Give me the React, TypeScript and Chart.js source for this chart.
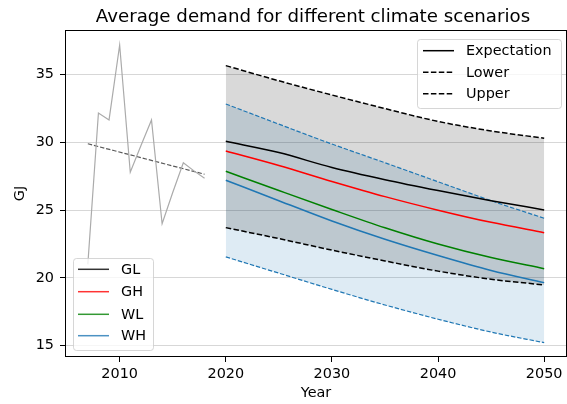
import React, { useEffect, useRef } from "react";
import { Chart, registerables } from "chart.js";

Chart.register(...registerables);

// Observed yearly demand (GJ)
const histYears = [2007, 2008, 2009, 2010, 2011, 2012, 2013, 2014, 2015, 2016, 2017, 2018];
const histDemand = [21.0, 32.17, 31.66, 37.19, 27.8, 29.75, 31.66, 24.0, 26.3, 28.5, 27.9, 27.35];

// Linear trend through the observed period
const trendYears = [2007, 2018];
const trendDemand = [29.9, 27.65];

// Scenario projections
const forecastYears = [2020, 2025, 2030, 2035, 2040, 2045, 2050];
const glDemand = [30.08, 29.25, 28.15, 27.25, 26.45, 25.7, 25.02];
const ghDemand = [29.37, 28.3, 27.12, 26.0, 25.0, 24.1, 23.34];
const wlDemand = [27.87, 26.45, 25.05, 23.7, 22.5, 21.5, 20.68];
const whDemand = [27.21, 25.7, 24.2, 22.85, 21.65, 20.55, 19.65];

// Uncertainty bands
const glUpper = [35.67, 34.55, 33.5, 32.5, 31.55, 30.85, 30.31];
const glLower = [23.71, 22.9, 22.05, 21.25, 20.5, 19.9, 19.48];
const whUpper = [32.84, 31.35, 29.88, 28.5, 27.1, 25.7, 24.4];
const whLower = [21.55, 20.35, 19.15, 18.0, 16.95, 16.0, 15.22];

const xTicks = [2010, 2020, 2030, 2040, 2050];
const yTicks = [15, 20, 25, 30, 35];
const xRange = [2004.85, 2052.15];
const yRange = [14.16, 38.3];

const scenarioNames = ["GL", "GH", "WL", "WH"];
const bandNames = ["Expectation", "Lower", "Upper"];

const FONT = '"DejaVu Sans", sans-serif';
const BLUE = "#1f77b4";
const TEXT_SIZE = 14.4;

const toPoints = (xs: number[], ys: number[]) => xs.map((x, i) => ({ x, y: ys[i] }));

function drawLegend(
  ctx: CanvasRenderingContext2D,
  box: { x: number; y: number; w: number; h: number },
  items: { label: string; color: string; dash: number[] }[],
  rowY: number[],
  lineX0: number,
  lineX1: number,
  textX: number
) {
  ctx.save();
  ctx.beginPath();
  ctx.roundRect(box.x + 0.5, box.y + 0.5, box.w, box.h, 3);
  ctx.fillStyle = "rgba(255,255,255,0.8)";
  ctx.fill();
  ctx.strokeStyle = "rgba(204,204,204,0.8)";
  ctx.lineWidth = 1;
  ctx.stroke();
  ctx.font = `${TEXT_SIZE}px ${FONT}`;
  ctx.textBaseline = "middle";
  ctx.textAlign = "left";
  items.forEach((it, i) => {
    const y = rowY[i];
    ctx.beginPath();
    ctx.setLineDash(it.dash);
    ctx.strokeStyle = it.color;
    ctx.lineWidth = 1.5;
    ctx.moveTo(lineX0, y);
    ctx.lineTo(lineX1, y);
    ctx.stroke();
    ctx.setLineDash([]);
    ctx.fillStyle = "#000";
    ctx.fillText(it.label, textX, y + 1);
  });
  ctx.restore();
}

const decorations = {
  id: "decorations",
  afterDraw(chart: any) {
    const ctx: CanvasRenderingContext2D = chart.ctx;
    const a = chart.chartArea;
    ctx.save();
    // axes frame
    ctx.strokeStyle = "#000";
    ctx.lineWidth = 1;
    ctx.strokeRect(Math.round(a.left) + 0.5, Math.round(a.top) + 0.5, Math.round(a.right - a.left) - 1, Math.round(a.bottom - a.top) - 1);

    // title
    ctx.fillStyle = "#000";
    ctx.font = `18.2px ${FONT}`;
    ctx.textAlign = "center";
    ctx.textBaseline = "alphabetic";
    ctx.fillText("Average demand for different climate scenarios", (a.left + a.right) / 2 - 3, 22);

    // axis titles
    ctx.font = `${TEXT_SIZE}px ${FONT}`;
    ctx.textBaseline = "middle";
    ctx.fillText("Year", (a.left + a.right) / 2, 393);
    ctx.save();
    ctx.translate(20, (a.top + a.bottom) / 2);
    ctx.rotate(-Math.PI / 2);
    ctx.fillText("GJ", 0, 0);
    ctx.restore();

    // band legend
    drawLegend(
      ctx,
      { x: 417, y: 39, w: 144, h: 69 },
      [
        { label: bandNames[0], color: "#000", dash: [] },
        { label: bandNames[1], color: "#000", dash: [5.5, 2.4] },
        { label: bandNames[2], color: "#000", dash: [5.5, 2.4] },
      ],
      [50.7, 72.3, 93.7],
      423,
      454,
      466
    );

    // scenario legend
    drawLegend(
      ctx,
      { x: 73, y: 258, w: 80, h: 92 },
      [
        { label: scenarioNames[0], color: "rgba(0,0,0,0.8)", dash: [] },
        { label: scenarioNames[1], color: "rgba(255,0,0,0.8)", dash: [] },
        { label: scenarioNames[2], color: "rgba(0,128,0,0.8)", dash: [] },
        { label: scenarioNames[3], color: "rgba(31,119,180,0.8)", dash: [] },
      ],
      [269.3, 291.7, 314.3, 335.7],
      78,
      109,
      121
    );
    ctx.restore();
  },
};

export default function App() {
  const ref = useRef<HTMLCanvasElement | null>(null);

  useEffect(() => {
    if (!ref.current) return;
    const line = (label: string, xs: number[], ys: number[], color: string, width: number, extra: any = {}) => ({
      label,
      data: toPoints(xs, ys),
      borderColor: color,
      borderWidth: width,
      pointRadius: 0,
      fill: false,
      cubicInterpolationMode: "monotone",
      ...extra,
    });

    const chart = new Chart(ref.current, {
      type: "line",
      data: {
        datasets: [
          line("GL", forecastYears, glDemand, "#000000", 1.5),
          line("GH", forecastYears, ghDemand, "#ff0000", 1.5),
          line("WL", forecastYears, wlDemand, "#008000", 1.5),
          line("WH", forecastYears, whDemand, BLUE, 1.5),
          line("GL upper", forecastYears, glUpper, "#000000", 1.5, {
            borderDash: [5.5, 2.4],
            fill: 5,
            backgroundColor: "rgba(0,0,0,0.15)",
          }),
          line("GL lower", forecastYears, glLower, "#000000", 1.5, { borderDash: [5.5, 2.4] }),
          line("WH upper", forecastYears, whUpper, BLUE, 1.2, {
            borderDash: [4.4, 1.9],
            fill: 7,
            backgroundColor: "rgba(31,119,180,0.15)",
          }),
          line("WH lower", forecastYears, whLower, BLUE, 1.2, { borderDash: [4.4, 1.9] }),
          line("Observed", histYears, histDemand, "#ababab", 1.2, { cubicInterpolationMode: "default", tension: 0 }),
          line("Trend", trendYears, trendDemand, "#5a5a5a", 1.2, { borderDash: [4.4, 1.9] }),
        ],
      },
      options: {
        animation: false,
        responsive: false,
        devicePixelRatio: 1,
        layout: { padding: { top: 30, right: 0, left: 0, bottom: 0 } },
        plugins: {
          legend: { display: false },
          title: { display: false },
          tooltip: { enabled: false },
          filler: { drawTime: "beforeDatasetsDraw" },
        },
        scales: {
          x: {
            type: "linear",
            min: xRange[0],
            max: xRange[1],
            afterBuildTicks: (s: any) => {
              s.ticks = xTicks.map((v) => ({ value: v }));
            },
            afterFit: (s: any) => {
              s.height = 47;
            },
            grid: { drawOnChartArea: false, drawTicks: true, tickLength: 5, tickColor: "#000", tickWidth: 1 },
            border: { display: false },
            ticks: {
              color: "#000",
              font: { family: FONT, size: TEXT_SIZE },
              padding: 4,
              maxRotation: 0,
              autoSkip: false,
              callback: (v: any) => String(v),
            },
          },
          y: {
            type: "linear",
            min: yRange[0],
            max: yRange[1],
            afterBuildTicks: (s: any) => {
              s.ticks = yTicks.map((v) => ({ value: v }));
            },
            afterFit: (s: any) => {
              s.width = 65;
            },
            grid: {
              drawOnChartArea: true,
              drawTicks: true,
              tickLength: 5,
              color: "rgba(176,176,176,0.5)",
              tickColor: "#000",
              lineWidth: 1,
              tickWidth: 1,
            },
            border: { display: false },
            ticks: {
              color: "#000",
              font: { family: FONT, size: TEXT_SIZE },
              padding: 6,
              autoSkip: false,
              callback: (v: any) => String(v),
            },
          },
        },
      },
      plugins: [decorations],
    } as any);

    return () => chart.destroy();
  }, []);

  return (
    <div style={{ position: "absolute", left: 0, top: 0, width: 567, height: 404, background: "#fff" }}>
      <canvas ref={ref} width={567} height={404} style={{ display: "block", width: 567, height: 404 }} />
    </div>
  );
}
